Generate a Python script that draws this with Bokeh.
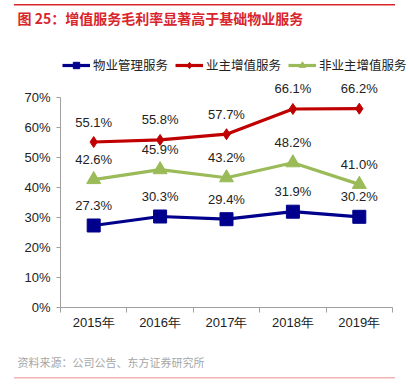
from bokeh.plotting import figure
from bokeh.models import (ColumnDataSource, LabelSet, Legend, LegendItem, Title,
                          FixedTicker, Range1d, PrintfTickFormatter)
from bokeh.core.properties import value
from bokeh.embed import file_html
from bokeh.resources import INLINE

# ---- data ----
years = ["2015年", "2016年", "2017年", "2018年", "2019年"]
property_mgmt = [27.3, 30.3, 29.4, 31.9, 30.2]
owner_vas = [55.1, 55.8, 57.7, 66.1, 66.2]
nonowner_vas = [42.6, 45.9, 43.2, 48.2, 41.0]
series_names = ["物业管理服务", "业主增值服务", "非业主增值服务"]
y_ticks = [0, 10, 20, 30, 40, 50, 60, 70]
title_text = "图 25：增值服务毛利率显著高于基础物业服务"
source_text = "资料来源：公司公告、东方证券研究所"

# ---- layout constants (canvas px) ----
W, H = 408, 391
FL, FR, FT, FB = 60, 408, 34, 308
AX_TOP = 97              # where the 70% tick sits
AX_RIGHT = 392           # where the x axis ends
NUM_FONT = "Liberation Sans"
CJK_FONT = "Noto Sans CJK SC"

n = len(years)
y_max = y_ticks[-1]
px_per_unit_y = (FB - AX_TOP) / y_max
y_end = y_max + (AX_TOP - FT) / px_per_unit_y
px_per_unit_x = (AX_RIGHT - FL) / n
x_end = n + (FR - AX_RIGHT) / px_per_unit_x

xs = [i + 0.5 for i in range(n)]

rules_css = ("linear-gradient(#D9252C, #D9252C) 14px 4px / 381px 1.5px no-repeat, "
             "linear-gradient(#F2B3B5, #F2B3B5) 14px 377px / 381px 1.5px no-repeat, white")

p = figure(width=W, height=H, output_backend="svg", toolbar_location=None,
           x_range=Range1d(0, x_end), y_range=Range1d(0, y_end),
           min_border_left=FL, min_border_right=W - FR,
           min_border_top=FT, min_border_bottom=H - FB,
           title=title_text, styles={"background": rules_css})
p.outline_line_color = None
p.xgrid.visible = False
p.ygrid.visible = False
p.background_fill_color = "white"
p.border_fill_color = None

p.title.align = "left"
p.title.vertical_align = "middle"
p.title.offset = 17 - FL
p.title.standoff = 12
p.title.text_font = CJK_FONT
p.title.text_font_size = "14px"
p.title.text_font_style = "bold"
p.title.text_color = "#D9252C"

axis_col = "#A0A0A0"
# x axis
p.xaxis.ticker = FixedTicker(ticks=xs, minor_ticks=list(range(n + 1)))
p.xaxis.bounds = (0, n)
p.xaxis.major_label_overrides = {x: y for x, y in zip(xs, years)}
p.xaxis.axis_line_color = axis_col
p.xaxis.major_tick_out = 0
p.xaxis.major_tick_in = 0
p.xaxis.minor_tick_out = 5
p.xaxis.minor_tick_in = 0
p.xaxis.minor_tick_line_color = axis_col
p.xaxis.major_label_standoff = 2
p.xaxis.major_label_text_font = NUM_FONT
p.xaxis.major_label_text_font_size = "13px"
p.xaxis.major_label_text_color = "#222222"

# y axis
p.yaxis.ticker = FixedTicker(ticks=y_ticks)
p.yaxis.bounds = (0, y_max)
p.yaxis.formatter = PrintfTickFormatter(format="%d%%")
p.yaxis.axis_line_color = axis_col
p.yaxis.major_tick_line_color = axis_col
p.yaxis.major_tick_out = 4
p.yaxis.major_tick_in = 0
p.yaxis.minor_tick_out = 0
p.yaxis.minor_tick_in = 0
p.yaxis.major_label_standoff = 6
p.yaxis.major_label_text_font = NUM_FONT
p.yaxis.major_label_text_font_size = "13px"
p.yaxis.major_label_text_color = "#222222"

colors = ["#00008C", "#C00000", "#9BBB59"]
markers = ["square", "diamond", "triangle"]
sizes = [13, 11, 14]
series = [property_mgmt, owner_vas, nonowner_vas]

items = []
for name, vals, c, m, s in zip(series_names, series, colors, markers, sizes):
    src = ColumnDataSource(dict(x=xs, y=vals, t=["%.1f%%" % v for v in vals]))
    ln = p.line("x", "y", source=src, line_color=c, line_width=3.2)
    sc = p.scatter("x", "y", source=src, marker=m, size=s, fill_color=c, line_color=c)
    items.append(LegendItem(label=name, renderers=[ln, sc]))
    p.add_layout(LabelSet(x="x", y="y", text="t", source=src, y_offset=20,
                          text_align="center", text_baseline="middle",
                          text_font=value(NUM_FONT), text_font_size="13px",
                          text_color="#222222"))

# legend inside the (extended) frame, centred on y = 67 px
legend = Legend(items=items, orientation="horizontal", location=(2, FB - 75),
                padding=0, margin=0, spacing=7, label_standoff=3,
                glyph_width=28, glyph_height=16, label_height=16,
                border_line_alpha=0, background_fill_alpha=0,
                label_text_font=CJK_FONT, label_text_font_size="12.5px",
                label_text_color="#222222")
p.add_layout(legend)

# source note below the x axis
p.add_layout(Title(text=source_text, align="left", offset=17 - FL,
                   vertical_align="middle",
                   text_font=CJK_FONT, text_font_size="11px",
                   text_font_style="normal", text_color="#A6A6A6",
                   standoff=41), "below")

open("out.html", "w").write(file_html(p, INLINE))
